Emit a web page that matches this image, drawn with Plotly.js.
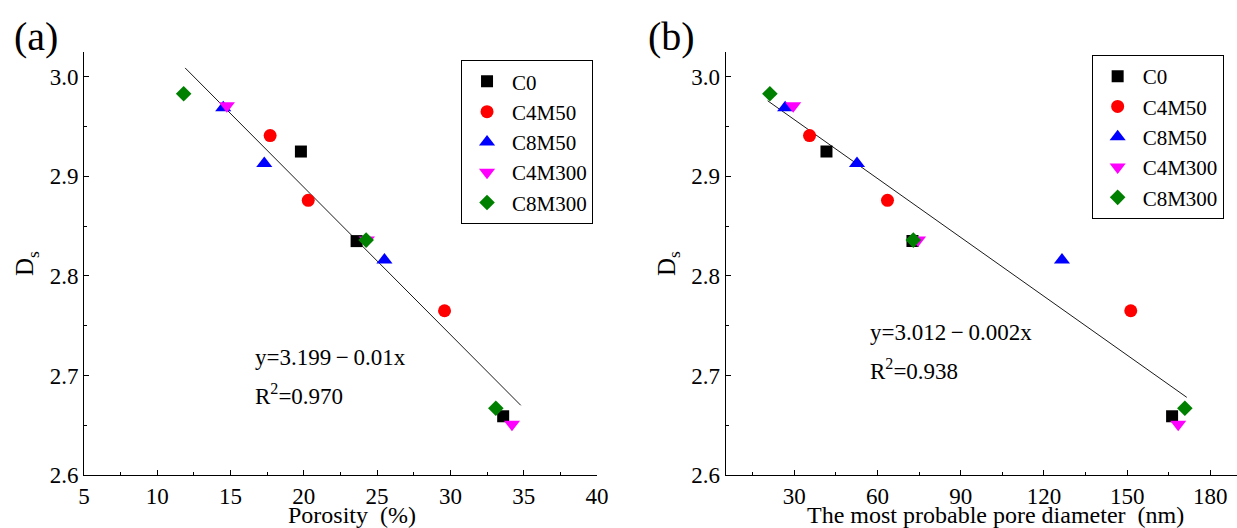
<!DOCTYPE html>
<html>
<head>
<meta charset="utf-8">
<script src="https://cdn.plot.ly/plotly-3.0.1.min.js"></script>
<style>
  html, body { margin: 0; padding: 0; background: #fff; }
  #chart { width: 1237px; height: 528px; }
</style>
</head>
<body>
<div id="chart"></div>
<script>
// ---- Data ----
const seriesNames = ['C0', 'C4M50', 'C8M50', 'C4M300', 'C8M300'];

// Surface fractal dimension Ds (shared by both panels)
const ds_C0     = [2.925, 2.835, 2.659];
const ds_C4M50  = [2.941, 2.876, 2.765];
const ds_C8M50  = [2.969, 2.913, 2.816];
const ds_C4M300 = [2.971, 2.836, 2.651];
const ds_C8M300 = [2.983, 2.836, 2.667];

// Panel (a): porosity (%)
const por_C0     = [19.8, 23.6, 33.6];
const por_C4M50  = [17.7, 20.3, 29.6];
const por_C8M50  = [14.5, 17.3, 25.5];
const por_C4M300 = [14.75, 24.3, 34.2];
const por_C8M300 = [11.8, 24.25, 33.1];

// Panel (b): most probable pore diameter (nm)
const dia_C0     = [41.6, 72.6, 166.2];
const dia_C4M50  = [35.5, 63.6, 151.3];
const dia_C8M50  = [26.7, 52.6, 126.5];
const dia_C4M300 = [29.6, 74.6, 168.4];
const dia_C8M300 = [21.2, 72.9, 170.8];

// Fitted lines (endpoints as drawn)
const fitA_x = [11.9, 34.8];
const fitA_y = [3.009, 2.670];
const fitB_x = [20.4, 171.5];
const fitB_y = [2.976, 2.678];

const eqA = ['y=3.199\u2009\u2212\u20090.01x', 'R<sup>2</sup>=0.970'];
const eqB = ['y=3.012\u2009\u2212\u20090.002x', 'R<sup>2</sup>=0.938'];

const xTitleA = 'Porosity\u00a0 (%)';
const xTitleB = 'The most probable pore diameter\u00a0 (nm)';
const yTitle = 'D<sub>s</sub>';

// ---- Styling ----
const FONT = '"Liberation Serif", "Times New Roman", serif';
const styles = [
  { symbol: 'square',        color: '#000000', size: 12 },
  { symbol: 'circle',        color: '#ff0000', size: 13 },
  { symbol: 'triangle-up',   color: '#0000ff', size: 14 },
  { symbol: 'triangle-down', color: '#ff00ff', size: 14 },
  { symbol: 'diamond',       color: '#008000', size: 12 }
];

const dsAll  = [ds_C0, ds_C4M50, ds_C8M50, ds_C4M300, ds_C8M300];
const porAll = [por_C0, por_C4M50, por_C8M50, por_C4M300, por_C8M300];
const diaAll = [dia_C0, dia_C4M50, dia_C8M50, dia_C4M300, dia_C8M300];

const traces = [];
traces.push({ x: fitA_x, y: fitA_y, mode: 'lines', line: { color: '#1a1a1a', width: 1 },
  showlegend: false, xaxis: 'x', yaxis: 'y', hoverinfo: 'skip' });
traces.push({ x: fitB_x, y: fitB_y, mode: 'lines', line: { color: '#1a1a1a', width: 1 },
  showlegend: false, xaxis: 'x2', yaxis: 'y2', hoverinfo: 'skip' });

seriesNames.forEach((n, i) => {
  const s = styles[i];
  traces.push({
    x: porAll[i], y: dsAll[i], name: n, mode: 'markers', type: 'scatter',
    marker: { symbol: s.symbol, color: s.color, size: s.size, line: { width: 0 } },
    xaxis: 'x', yaxis: 'y', legend: 'legend'
  });
});
seriesNames.forEach((n, i) => {
  const s = styles[i];
  traces.push({
    x: diaAll[i], y: dsAll[i], name: n, mode: 'markers', type: 'scatter',
    marker: { symbol: s.symbol, color: s.color, size: s.size, line: { width: 0 } },
    xaxis: 'x2', yaxis: 'y2', legend: 'legend2'
  });
});

const tickFont = { family: FONT, size: 23, color: '#000' };
const axisCommon = {
  showline: true, linecolor: '#000', linewidth: 1, mirror: false,
  showgrid: false, zeroline: false,
  ticks: 'inside', ticklen: 5, tickwidth: 1, tickcolor: '#000',
  tickfont: tickFont
};

const yDomain = [0.1004, 0.9015];
const legendCommon = {
  font: { family: FONT, size: 21, color: '#000' },
  bgcolor: '#fff', bordercolor: '#000', borderwidth: 1,
  xanchor: 'left', yanchor: 'top', tracegroupgap: 0, itemwidth: 40
};

const titleFont = { family: FONT, size: 24, color: '#000' };
const annFont = { family: FONT, size: 23, color: '#000' };

const layout = {
  width: 1237, height: 528,
  margin: { l: 0, r: 0, t: 0, b: 0 },
  paper_bgcolor: '#fff', plot_bgcolor: '#fff',
  font: { family: FONT, color: '#000' },
  xaxis: Object.assign({}, axisCommon, {
    domain: [0.0679, 0.4826], range: [5, 40], tick0: 0, dtick: 5, anchor: 'y',
    minor: { dtick: 2.5, ticks: 'inside', ticklen: 3, tickcolor: '#000', showgrid: false }
  }),
  yaxis: Object.assign({}, axisCommon, {
    domain: yDomain, range: [2.6, 3.025], tick0: 2.6, dtick: 0.1, tickformat: '.1f', anchor: 'x',
    minor: { dtick: 0.05, ticks: 'inside', ticklen: 3, tickcolor: '#000', showgrid: false },
    title: { text: yTitle, font: { family: FONT, size: 25, color: '#000' }, standoff: 8 }
  }),
  xaxis2: Object.assign({}, axisCommon, {
    domain: [0.5865, 1], range: [5.2, 189.6], tick0: 0, dtick: 30, anchor: 'y2',
    minor: { dtick: 15, ticks: 'inside', ticklen: 3, tickcolor: '#000', showgrid: false }
  }),
  yaxis2: Object.assign({}, axisCommon, {
    domain: yDomain, range: [2.6, 3.025], tick0: 2.6, dtick: 0.1, tickformat: '.1f', anchor: 'x2',
    minor: { dtick: 0.05, ticks: 'inside', ticklen: 3, tickcolor: '#000', showgrid: false },
    title: { text: yTitle, font: { family: FONT, size: 25, color: '#000' }, standoff: 8 }
  }),
  legend: Object.assign({}, legendCommon, { x: 0.3727, y: 0.886 }),
  legend2: Object.assign({}, legendCommon, { x: 0.8825, y: 0.8958 }),
  annotations: [
    // x-axis titles, just below the tick labels as in the reference
    { text: xTitleA, xref: 'paper', yref: 'paper', x: 352 / 1237, y: (528 - 515) / 528,
      xanchor: 'center', yanchor: 'middle', showarrow: false, font: titleFont },
    { text: xTitleB, xref: 'paper', yref: 'paper', x: 995 / 1237, y: (528 - 515) / 528,
      xanchor: 'center', yanchor: 'middle', showarrow: false, font: titleFont },
    { text: '(a)', xref: 'paper', yref: 'paper', x: 36 / 1237, y: (528 - 36) / 528,
      xanchor: 'center', yanchor: 'middle', showarrow: false,
      font: { family: FONT, size: 40, color: '#000' } },
    { text: '(b)', xref: 'paper', yref: 'paper', x: 671 / 1237, y: (528 - 36) / 528,
      xanchor: 'center', yanchor: 'middle', showarrow: false,
      font: { family: FONT, size: 40, color: '#000' } },
    { text: eqA[0], xref: 'paper', yref: 'paper', x: 253 / 1237, y: (528 - 357) / 528,
      xanchor: 'left', yanchor: 'middle', showarrow: false, font: annFont },
    { text: eqA[1], xref: 'paper', yref: 'paper', x: 253 / 1237, y: (528 - 394) / 528,
      xanchor: 'left', yanchor: 'middle', showarrow: false, font: annFont },
    { text: eqB[0], xref: 'paper', yref: 'paper', x: 868 / 1237, y: (528 - 333) / 528,
      xanchor: 'left', yanchor: 'middle', showarrow: false, font: annFont },
    { text: eqB[1], xref: 'paper', yref: 'paper', x: 868 / 1237, y: (528 - 370) / 528,
      xanchor: 'left', yanchor: 'middle', showarrow: false, font: annFont }
  ]
};

Plotly.newPlot('chart', traces, layout, { displayModeBar: false, staticPlot: true });
</script>
</body>
</html>
